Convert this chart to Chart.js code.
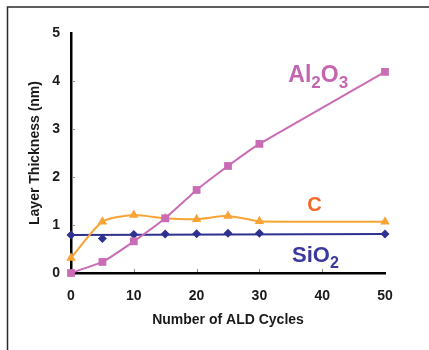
<!DOCTYPE html>
<html>
<head>
<meta charset="utf-8">
<script src="https://cdn.jsdelivr.net/npm/chart.js@4.4.1/dist/chart.umd.min.js"></script>
<style>
  html, body { margin: 0; padding: 0; background: #fff; overflow: hidden; }
  #wrap { width: 429px; height: 350px; position: relative; }
  canvas { display: block; }
</style>
</head>
<body>
<div id="wrap"><canvas id="myChart" width="429" height="350"></canvas></div>
<script>
var cycles = [0, 5, 10, 15, 20, 25, 30, 50];

var Al2O3 = [0.00, 0.23, 0.66, 1.14, 1.73, 2.23, 2.69, 4.19];
var Carbon = [0.31, 1.07, 1.21, 1.14, 1.12, 1.19, 1.08, 1.07];
var SiO2 = [0.79, 0.72, 0.80, 0.81, 0.82, 0.83, 0.83, 0.81];

// flat fit drawn through the SiO2 points
var SiO2FitCycles = [0, 50];
var SiO2Fit = [0.79, 0.81];

var xTicks = [0, 10, 20, 30, 40, 50];
var yTicks = [0, 1, 2, 3, 4, 5];

function pairs(xs, ys) {
  return xs.map(function (x, i) { return { x: x, y: ys[i] }; });
}

var PINK = "#c96cb5";
var ORANGE = "#f8a435";
var NAVY = "#2f3190";

// series names written next to the curves (x, y in data units)
var seriesTags = [
  { parts: [["Al", 0], ["2", 1], ["O", 0], ["3", 1]], x: 34.6, y: 3.98, size: 23, color: "#c465b0" },
  { parts: [["C", 0]], x: 37.6, y: 1.29, size: 20, color: "#f26a2a" },
  { parts: [["SiO", 0], ["2", 1]], x: 35.2, y: 0.23, size: 22, color: "#3a389e" }
];

var framePlugin = {
  id: "frame",
  beforeDraw: function (chart) {
    var c = chart.ctx;
    c.save();
    c.strokeStyle = "#2a2a2a";
    c.lineWidth = 1.5;
    c.strokeRect(7.5, 7, 460, 400);
    c.restore();
  }
};

var innerTicks = {
  id: "innerTicks",
  afterDraw: function (chart) {
    var c = chart.ctx, xs = chart.scales.x, ys = chart.scales.y;
    c.save();
    c.strokeStyle = "#8a8a8a";
    c.lineWidth = 1;
    xTicks.slice(1, -1).forEach(function (v) {
      var px = Math.round(xs.getPixelForValue(v)) + 0.5;
      c.beginPath();
      c.moveTo(px, ys.bottom - 1);
      c.lineTo(px, ys.bottom - 4);
      c.stroke();
    });
    yTicks.slice(1, -1).forEach(function (v) {
      var py = Math.round(ys.getPixelForValue(v)) + 0.5;
      c.beginPath();
      c.moveTo(xs.left + 1, py);
      c.lineTo(xs.left + 4, py);
      c.stroke();
    });
    c.restore();
  }
};

var tagPlugin = {
  id: "tags",
  afterDraw: function (chart) {
    var c = chart.ctx, xs = chart.scales.x, ys = chart.scales.y;
    c.save();
    c.textBaseline = "alphabetic";
    c.textAlign = "left";
    seriesTags.forEach(function (t) {
      var px = xs.getPixelForValue(t.x);
      var py = ys.getPixelForValue(t.y);
      c.fillStyle = t.color;
      t.parts.forEach(function (p) {
        var sub = p[1] === 1;
        var fs = sub ? Math.round(t.size * 0.72) : t.size;
        c.font = "bold " + fs + "px 'Liberation Sans', Arial, sans-serif";
        c.fillText(p[0], px, py + (sub ? 6 : 0));
        px += c.measureText(p[0]).width;
      });
    });
    c.restore();
  }
};

var tickFont = { family: "'Liberation Sans', Arial, sans-serif", size: 14, weight: "bold" };

var ctx = document.getElementById("myChart");
var myChart = new Chart(ctx, {
  type: "line",
  data: {
    datasets: [
      {
        label: "Al2O3",
        data: pairs(cycles, Al2O3),
        borderColor: PINK,
        backgroundColor: PINK,
        borderWidth: 2,
        pointStyle: "rect",
        pointRadius: 5.5,
        pointBorderWidth: 0,
        tension: 0.12,
        fill: false,
        clip: false
      },
      {
        label: "C",
        data: pairs(cycles, Carbon),
        borderColor: ORANGE,
        backgroundColor: ORANGE,
        borderWidth: 2,
        pointStyle: "triangle",
        pointRadius: 5.5,
        pointBorderWidth: 0,
        tension: 0.22,
        fill: false,
        clip: false
      },
      {
        label: "SiO2",
        data: pairs(cycles, SiO2),
        showLine: false,
        borderColor: NAVY,
        backgroundColor: NAVY,
        pointStyle: "rectRot",
        pointRadius: 4.5,
        pointBorderWidth: 0,
        clip: false
      },
      {
        label: "SiO2 fit",
        data: pairs(SiO2FitCycles, SiO2Fit),
        borderColor: NAVY,
        borderWidth: 2,
        pointRadius: 0,
        fill: false
      }
    ]
  },
  options: {
    responsive: false,
    animation: false,
    devicePixelRatio: 1,
    layout: { padding: { top: 33, right: 44, bottom: 0, left: 0 } },
    plugins: {
      legend: { display: false },
      tooltip: { enabled: false }
    },
    scales: {
      x: {
        type: "linear",
        min: 0,
        max: 50,
        afterBuildTicks: function (s) { s.ticks = xTicks.map(function (v) { return { value: v }; }); },
        afterFit: function (s) { s.height = 77; },
        grid: { display: true, drawOnChartArea: false, drawTicks: false },
        border: { color: "#000", width: 2.5 },
        ticks: { color: "#1a1a1a", font: tickFont, padding: 15, maxRotation: 0 },
        title: {
          display: true,
          text: "Number of ALD Cycles",
          color: "#1a1a1a",
          font: tickFont,
          padding: { top: 0, bottom: 21 }
        }
      },
      y: {
        min: 0,
        max: 5,
        afterBuildTicks: function (s) { s.ticks = yTicks.map(function (v) { return { value: v }; }); },
        afterFit: function (s) { s.width = 71; },
        grid: { display: true, drawOnChartArea: false, drawTicks: false },
        border: { color: "#000", width: 2.5 },
        ticks: { color: "#1a1a1a", font: tickFont, padding: 11 },
        title: {
          display: true,
          text: "Layer Thickness (nm)",
          color: "#1a1a1a",
          font: tickFont,
          padding: { top: 27, bottom: 0 }
        }
      }
    }
  },
  plugins: [framePlugin, innerTicks, tagPlugin]
});
</script>
</body>
</html>
